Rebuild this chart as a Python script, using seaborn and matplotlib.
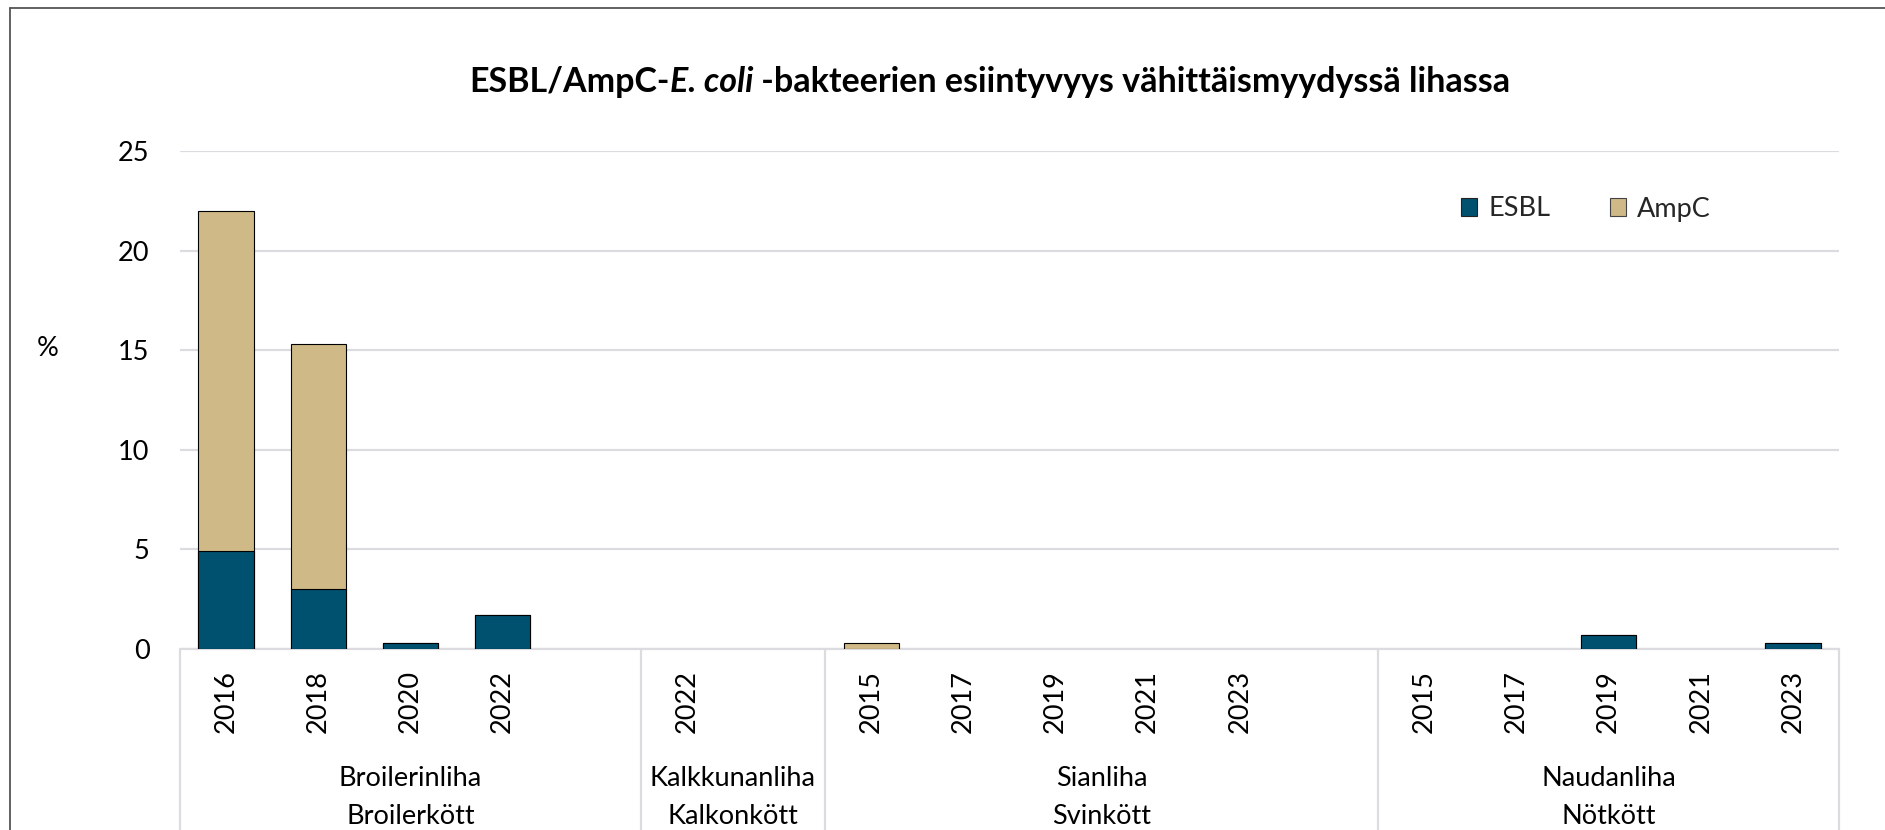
import numpy as np
import pandas as pd
import matplotlib
matplotlib.use("Agg")
import matplotlib.pyplot as plt
import matplotlib.transforms as mtransforms
from matplotlib.lines import Line2D
from matplotlib.patches import Patch
import seaborn as sns

# ---- data ----
meat_fi = ["Broilerinliha", "Kalkkunanliha", "Sianliha", "Naudanliha"]
meat_sv = ["Broilerkött", "Kalkonkött", "Svinkött", "Nötkött"]
meat = (["Broilerinliha"] * 4 + ["Kalkkunanliha"] + ["Sianliha"] * 5 + ["Naudanliha"] * 5)
year = [2016, 2018, 2020, 2022,
        2022,
        2015, 2017, 2019, 2021, 2023,
        2015, 2017, 2019, 2021, 2023]
esbl = [4.9, 3.0, 0.3, 1.7,
        0.0,
        0.0, 0.0, 0.0, 0.0, 0.0,
        0.0, 0.0, 0.7, 0.0, 0.3]
ampc = [17.1, 12.3, 0.0, 0.0,
        0.0,
        0.3, 0.0, 0.0, 0.0, 0.0,
        0.0, 0.0, 0.0, 0.0, 0.0]
y_ticks = [0, 5, 10, 15, 20, 25]
series = ["ESBL", "AmpC"]

C_ESBL = "#00506F"
C_AMPC = "#CFB987"
GRID = "#DCDCE0"
FS = 19.5

sns.set_theme(style="white")
plt.rcParams["font.family"] = ["Lato", "DejaVu Sans"]

# slot layout: one empty slot after every group except the last
slots = []
s = 0
prev = None
for m in meat:
    if prev is not None and m != prev:
        s += 1
    slots.append(s)
    s += 1
    prev = m
n_slots = s

df = pd.DataFrame({"meat": meat, "year": year, "slot": slots,
                   "ESBL": esbl, "AmpC": ampc})
df["total"] = df["ESBL"] + df["AmpC"]

W, H = 1885, 830
fig = plt.figure(figsize=(W / 100, H / 100), dpi=100)
ax = fig.add_axes([180 / W, (H - 649) / H, 1659 / W, (649 - 151) / H])

order = list(range(n_slots))
sns.barplot(data=df, x="slot", y="total", order=order, color=C_AMPC,
            saturation=1, width=0.6, edgecolor="black", linewidth=0.8,
            errorbar=None, ax=ax)
sns.barplot(data=df, x="slot", y="ESBL", order=order, color=C_ESBL,
            saturation=1, width=0.6, edgecolor="black", linewidth=0.8,
            errorbar=None, ax=ax)
for p in ax.patches:
    if abs(p.get_height()) < 1e-9:
        p.set_linewidth(0)

ax.set_xlim(-0.5, n_slots - 0.5)
ax.set_ylim(0, 25)
ax.set_yticks(y_ticks)
ax.set_yticklabels([str(v) for v in y_ticks], fontsize=FS, color="black")
labels = [""] * n_slots
for sl, yr in zip(slots, year):
    labels[sl] = str(yr)
ax.set_xticks(order)
ax.set_xticklabels(labels, rotation=90, fontsize=FS, color="black", va="top")
ax.tick_params(axis="x", length=0, pad=15)
ax.tick_params(axis="y", length=0, pad=22)
ax.set_xlabel("")
ax.set_ylabel("")
for sp in ax.spines.values():
    sp.set_visible(False)
ax.yaxis.grid(True, color=GRID, linewidth=1.6)
ax.xaxis.grid(False)
ax.set_axisbelow(True)

# group separators and labels
trans = mtransforms.blended_transform_factory(ax.transData, ax.transAxes)
trans_fig = mtransforms.blended_transform_factory(ax.transData, fig.transFigure)
bounds = []
for i, g in enumerate(meat_fi):
    gs = [sl for sl, m in zip(slots, meat) if m == g]
    start = min(gs) - 0.5
    end = max(gs) + (1.5 if i < len(meat_fi) - 1 else 0.5)
    bounds.append((start, end))
edges = sorted(set([b for pair in bounds for b in pair]))
for e in edges:
    ax.plot([e, e], [0, -0.5], transform=trans, clip_on=False,
            color=GRID, linewidth=1.6)
ax.plot([-0.5, n_slots - 0.5], [0, 0], transform=trans, clip_on=False,
        color=GRID, linewidth=1.6, zorder=0.5)
for (st, en), fi, sv in zip(bounds, meat_fi, meat_sv):
    xc = (st + en) / 2
    ax.text(xc, 1 - 778 / H, fi, transform=trans_fig, ha="center",
            va="center", fontsize=FS, color="black")
    ax.text(xc, 1 - 816 / H, sv, transform=trans_fig, ha="center",
            va="center", fontsize=FS, color="black")

# % label
fig.text(48 / W, 1 - 348 / H, "%", ha="center", va="center", fontsize=FS,
         color="black")

# legend
handles = [Patch(facecolor=C_ESBL, edgecolor="#222222", linewidth=0.8),
           Patch(facecolor=C_AMPC, edgecolor="#444444", linewidth=0.8)]
fig.legend(handles, series, loc="center left",
           bbox_to_anchor=(1461 / W, 1 - 209 / H), ncol=2, frameon=False,
           fontsize=FS, handlelength=0.6, handleheight=0.6,
           handletextpad=0.4, columnspacing=2.2, borderpad=0,
           borderaxespad=0)

# frame border (left & top visible)
fig.add_artist(Line2D([10 / W, 10 / W], [0, 1 - 8 / H],
                      transform=fig.transFigure, color="#555555", lw=1.3))
fig.add_artist(Line2D([10 / W, 1], [1 - 8 / H, 1 - 8 / H],
                      transform=fig.transFigure, color="#555555", lw=1.3))

# title with italic part
fig.canvas.draw()
r = fig.canvas.get_renderer()
parts = [("ESBL/AmpC-", "normal"), ("E. coli", "italic"),
         (" -bakteerien esiintyvyys vähittäismyydyssä lihassa", "normal")]
tys = 1 - 82 / H
texts = []
for txt, st in parts:
    t = fig.text(0, tys, txt, fontsize=24.5, fontweight="bold", style=st,
                 va="center", ha="left", color="black")
    texts.append(t)
widths = [t.get_window_extent(r).width for t in texts]
x0 = 990 - sum(widths) / 2
for t, w in zip(texts, widths):
    t.set_x(x0 / W)
    x0 += w

fig.savefig("out.png", dpi=100)
